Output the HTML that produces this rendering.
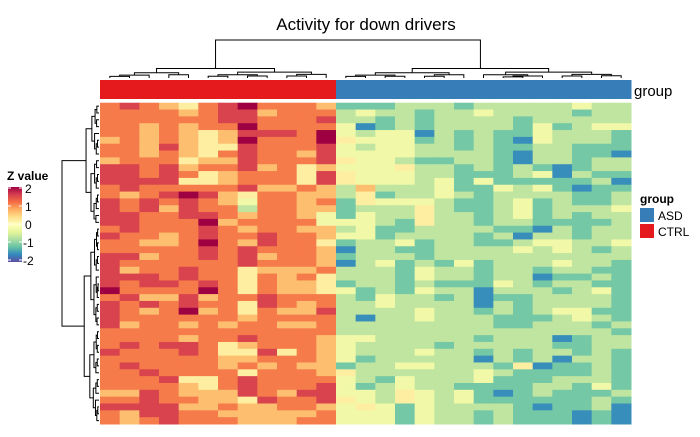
<!DOCTYPE html>
<html><head><meta charset="utf-8"><style>
body{margin:0;background:#fff;font-family:"Liberation Sans",sans-serif}
svg text{font-family:"Liberation Sans",sans-serif}
</style></head><body>
<svg id="c" width="700" height="432">
<text x="366" y="30" text-anchor="middle" font-size="17">Activity for down drivers</text>
<g id="top-dendro" stroke="#000" stroke-width="1" fill="none"></g>
<g id="left-dendro" stroke="#000" stroke-width="1" fill="none"></g>
<g id="anno"></g>
<text x="634" y="96" font-size="15">group</text>
<g id="cells"></g>
<defs><linearGradient id="zg" x1="0" y1="0" x2="0" y2="1">
<stop offset="0" stop-color="#9E0142"/><stop offset="0.1" stop-color="#D53E4F"/><stop offset="0.2" stop-color="#F46D43"/><stop offset="0.3" stop-color="#FDAE61"/><stop offset="0.4" stop-color="#FEE08B"/><stop offset="0.5" stop-color="#FFFFBF"/><stop offset="0.6" stop-color="#E6F598"/><stop offset="0.7" stop-color="#ABDDA4"/><stop offset="0.8" stop-color="#66C2A5"/><stop offset="0.9" stop-color="#3288BD"/><stop offset="1" stop-color="#5E4FA2"/>
</linearGradient></defs>
<g>
<text x="7" y="180" font-size="12" font-weight="bold">Z value</text>
<rect x="8" y="187" width="14" height="75" fill="url(#zg)"/>
<g stroke="#fff" stroke-width="1"><line x1="8" y1="188" x2="11" y2="188"/><line x1="19" y1="188" x2="22" y2="188"/><line x1="8" y1="206" x2="11" y2="206"/><line x1="19" y1="206" x2="22" y2="206"/><line x1="8" y1="224" x2="11" y2="224"/><line x1="19" y1="224" x2="22" y2="224"/><line x1="8" y1="242" x2="11" y2="242"/><line x1="19" y1="242" x2="22" y2="242"/><line x1="8" y1="260" x2="11" y2="260"/><line x1="19" y1="260" x2="22" y2="260"/></g>
<g font-size="12"><text x="25" y="193">2</text><text x="25" y="211">1</text><text x="25" y="229">0</text><text x="23" y="247">-1</text><text x="23" y="265">-2</text></g>
</g>
<g>
<text x="640" y="203" font-size="12" font-weight="bold">group</text>
<rect x="640" y="208" width="14" height="14" fill="#377EB8"/>
<text x="658" y="220" font-size="12">ASD</text>
<rect x="640" y="224" width="14" height="14" fill="#E41A1C"/>
<text x="658" y="236" font-size="12">CTRL</text>
</g>
</svg>
<script>
// column groups (12 CTRL, 15 ASD)
const groups = ["CTRL","CTRL","CTRL","CTRL","CTRL","CTRL","CTRL","CTRL","CTRL","CTRL","CTRL","CTRL","ASD","ASD","ASD","ASD","ASD","ASD","ASD","ASD","ASD","ASD","ASD","ASD","ASD","ASD","ASD"];
// rows: digit d => z = -2 + d*4/9 ; first 12 chars CTRL, next 15 ASD
const rowsCtrl = ["787657897776","777767886777","777777887778","776767797777","776765688879","676765697779","776865587778","776765787768","677756687778","887867786756","887875677758","888855677758","787777786676","767898657766","878787647767","878687737766","887788767764","887779677774","787778767766","877678778776","776679768775","777778787776","886778786776","877777787776","867787756667","888787757675","878878757665","977779757665","786686778777","878787758767","876796757668","877777767777","867767677667","777777777777","777767787776","787887567776","877787558576","777777667776","787777676766","778777757776","777855787777","777765787778","668766687688","778776658778","888866766776","768877666667","767877766677"];
const rowsAsd = ["222333233333433","343323343333233","332323333233333","412323333242344","434413232243332","544423232143332","434433232233222","444433332133221","544322332133233","444533232321233","544433222341322","544434242222231","363334224342122","352334323333223","254443223423223","233353223423334","243353323423233","443253323322223","342233332213233","442333323133233","233423322344334","133223333434323","233323333333333","134232423334332","333243323323322","333243323312232","233232224323322","423243313332342","324332312233332","334333313233332","333343323234422","313343332223432","333333332233323","333333333333332","443333323331233","433332333332233","433343323233232","423333313231332","233443332512232","533333343222232","432433342223332","423433222233242","443543421232223","543543422222232","454243333212231","444243323222121","444243323222121"];
const nRows = rowsCtrl.length, nCols = groups.length;
const X0=100, X1=631, Y0=102.7, Y1=424;
const cw=(X1-X0)/nCols, rh=(Y1-Y0)/nRows;
const xPos=i=>X0+i*cw, yPos=j=>Y0+j*rh;
const stops=[["#5E4FA2",-2],["#3288BD",-1.6],["#66C2A5",-1.2],["#ABDDA4",-0.8],["#E6F598",-0.4],["#FFFFBF",0],["#FEE08B",0.4],["#FDAE61",0.8],["#F46D43",1.2],["#D53E4F",1.6],["#9E0142",2]];
function hex(h){return [1,3,5].map(k=>parseInt(h.substr(k,2),16));}
function color(z){z=Math.max(-2,Math.min(2,z));for(let k=0;k<stops.length-1;k++){const[a,za]=stops[k],[b,zb]=stops[k+1];if(z<=zb){const t=(z-za)/(zb-za),A=hex(a),B=hex(b);return "rgb("+A.map((v,i)=>Math.round(v+(B[i]-v)*t)).join(",")+")";}}return stops[10][0];}
const NS="http://www.w3.org/2000/svg";
const cells=document.getElementById("cells");
for(let r=0;r<nRows;r++){const s=rowsCtrl[r]+rowsAsd[r];for(let c=0;c<nCols;c++){const z=-2+(+s[c])*4/9;const e=document.createElementNS(NS,"rect");e.setAttribute("x",xPos(c));e.setAttribute("y",yPos(r));e.setAttribute("width",cw+0.5);e.setAttribute("height",rh+0.5);e.setAttribute("fill",color(z));


cells.appendChild(e);}}
const anno=document.getElementById("anno");
for(let c=0;c<nCols;c++){const e=document.createElementNS(NS,"rect");e.setAttribute("x",xPos(c));e.setAttribute("y",80);e.setAttribute("width",cw+0.5);e.setAttribute("height",19);e.setAttribute("fill",groups[c]==="CTRL"?"#E41A1C":"#377EB8");


anno.appendChild(e);}
// dendrograms (structure approximate)
function tree(a,b,h){if(b-a===1)return{c:a+0.5,h:0};const m=a+Math.ceil((b-a)/2)+(((a*7+b)%3===0&&b-a>3)?-1:0);const L=tree(a,m,h*0.55),R=tree(m,b,h*0.62);return{c:(L.c+R.c)/2,h:h,L:L,R:R};}
function drawTop(n,g){if(!n.L)return;const p=v=>v.h,px=i=>X0+i*cw,py=h=>78-h*38;g.innerHTML+=`<path d="M${px(n.L.c)},${py(p(n.L))}V${py(n.h)}H${px(n.R.c)}V${py(p(n.R))}"/>`;drawTop(n.L,g);drawTop(n.R,g);}
function drawLeft(n,g){if(!n.L)return;const py=i=>Y0+i*rh,px=h=>99-h*37;g.innerHTML+=`<path d="M${px(n.L.h)},${py(n.L.c)}H${px(n.h)}V${py(n.R.c)}H${px(n.R.h)}"/>`;drawLeft(n.L,g);drawLeft(n.R,g);}
const tl=tree(0,12,0.25),tr=tree(12,27,0.25);
const troot={c:(tl.c+tr.c)/2,h:1,L:tl,R:tr};
drawTop(troot,document.getElementById("top-dendro"));
const la=tree(0,18,0.35),lb=tree(18,47,0.4);
drawLeft({c:(la.c+lb.c)/2,h:1,L:la,R:lb},document.getElementById("left-dendro"));
</script>
</body></html>
